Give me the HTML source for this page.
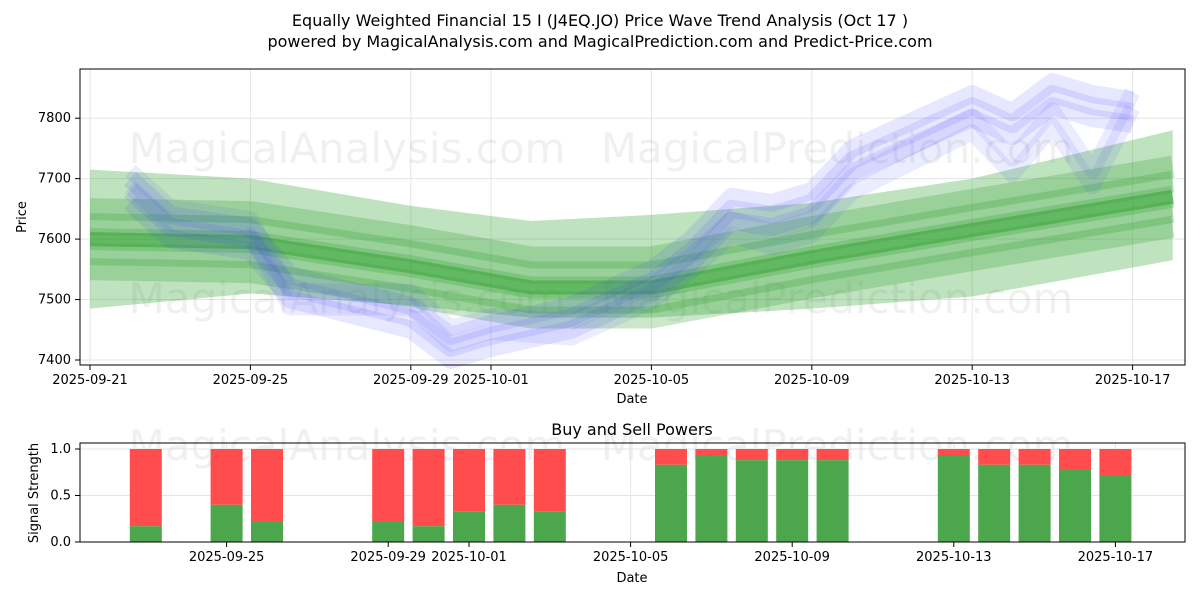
<!DOCTYPE html>
<html><head><meta charset="utf-8">
<style>
body{margin:0;background:#fff;font-family:"Liberation Sans","DejaVu Sans",sans-serif;}
svg text{font-family:"DejaVu Sans","Liberation Sans",sans-serif;}
</style></head>
<body>
<svg id="c" width="1200" height="600">
<text x="600" y="26" text-anchor="middle" font-size="16">Equally Weighted Financial 15 I (J4EQ.JO) Price Wave Trend Analysis (Oct 17 )</text>
<text x="600" y="47" text-anchor="middle" font-size="16">powered by MagicalAnalysis.com and MagicalPrediction.com and Predict-Price.com</text>
<g id="top"></g>
<g id="bot"></g>
</svg>
<script>
const priceTicks=[7400,7500,7600,7700,7800];
const dateTicks=['2025-09-21','2025-09-25','2025-09-29','2025-10-01','2025-10-05','2025-10-09','2025-10-13','2025-10-17'];
const greenDays=[0,4,8,11,14,18,22,27];
const greenMid=[7600,7595,7555,7520,7520,7570,7615,7670];
const greenUpper=[7715,7700,7655,7630,7640,7660,7700,7780];
const greenLower=[7485,7510,7490,7470,7470,7485,7505,7565];
const blueDays=[1,2,4,5,8,9,10,12,14,15,16,17,18,19,22,23,24,25,26];
const blueVals=[7680,7620,7600,7520,7470,7420,7440,7470,7530,7580,7650,7640,7660,7730,7820,7790,7840,7820,7810];
const blue2Days=[1,2,4,5,8,9,10,12,14,15,16,17,18,19,22,23,24,25,26];
const blue2Vals=[7700,7640,7620,7500,7500,7440,7460,7450,7510,7560,7620,7600,7620,7690,7790,7720,7800,7700,7830];
const barDays=[2,4,5,8,9,10,11,12,15,16,17,18,19,22,23,24,25,26];
const buyVals=[0.17,0.4,0.22,0.22,0.17,0.33,0.4,0.33,0.83,0.93,0.88,0.88,0.88,0.93,0.83,0.83,0.78,0.72];
const sigTicks=[0,0.5,1.0];
const barTickDays=[4,8,10,14,18,22,26];
const NS='http://www.w3.org/2000/svg';
function mk(p,t,a){const e=document.createElementNS(NS,t);for(const k in a)e.setAttribute(k,a[k]);p.appendChild(e);return e;}
const gTop=document.getElementById('top'),gBot=document.getElementById('bot');
const X=d=>90+d*40.1, Y=v=>360-(v-7400)*0.6045;
const X2=d=>65+d*40.4, Y2=v=>542-v*93;
priceTicks.forEach(v=>{const l=mk(gTop,'line',{x1:80,x2:1185,y1:Y(v),y2:Y(v),stroke:'#e5e5e5'});
 
 
 mk(gTop,'line',{x1:75,x2:80,y1:Y(v),y2:Y(v),stroke:'#000'});
 const t=mk(gTop,'text',{x:71,y:Y(v)+4,'text-anchor':'end','font-size':13});t.textContent=v;
 
 });
dateTicks.forEach(s=>{const d=(new Date(s)-new Date('2025-09-21'))/864e5;const x=X(d);
 mk(gTop,'line',{x1:x,x2:x,y1:69,y2:365,stroke:'#e5e5e5'});mk(gTop,'line',{x1:x,x2:x,y1:365,y2:370,stroke:'#000'});
 const t=mk(gTop,'text',{x:x,y:384,'text-anchor':'middle','font-size':13});t.textContent=s;
 
 });
[['MagicalAnalysis.com',347,163],['MagicalPrediction.com',837,163],['MagicalAnalysis.com',347,313],['MagicalPrediction.com',837,313],['MagicalAnalysis.com',347,460],['MagicalPrediction.com',837,460]].forEach(w=>{const t=mk(gTop,'text',{x:w[1],y:w[2],'text-anchor':'middle','font-size':42,fill:'#000','fill-opacity':0.06});t.textContent=w[0];
 
 });
function pts(days,vals,dy){return days.map((d,i)=>X(d)+','+(Y(vals[i])+(dy||0))).join(' ');}
const band=greenDays.map((d,i)=>X(d)+','+Y(greenUpper[i])).concat(greenDays.slice().reverse().map((d,j)=>{const i=greenDays.length-1-j;return X(d)+','+Y(greenLower[i]);})).join(' ');
let e=mk(gTop,'polygon',{points:band,fill:'#2ca02c','fill-opacity':0.3});


[-30,-15,0,15,30].forEach(o=>{const p=mk(gTop,'polyline',{points:pts(greenDays,greenMid,o),fill:'none',stroke:'#2ca02c','stroke-opacity':0.25,'stroke-width':22,'stroke-linejoin':'round'});
 
 });
e=mk(gTop,'polyline',{points:pts(greenDays,greenMid,0),fill:'none',stroke:'#2ca02c','stroke-opacity':0.5,'stroke-width':14});


[-12,0,12].forEach(o=>{const p=mk(gTop,'polyline',{points:pts(blueDays,blueVals,o),fill:'none',stroke:'#4444ff','stroke-opacity':0.13,'stroke-width':18,'stroke-linejoin':'round'});
 
 });
[-8,8].forEach(o=>{const p=mk(gTop,'polyline',{points:pts(blue2Days,blue2Vals,o),fill:'none',stroke:'#4444ff','stroke-opacity':0.1,'stroke-width':16,'stroke-linejoin':'round'});
 
 });
e=mk(gTop,'rect',{x:80,y:69,width:1105,height:296,fill:'none',stroke:'#000'});


e=mk(gTop,'text',{x:632,y:403,'text-anchor':'middle','font-size':13});e.textContent='Date';


e=mk(gTop,'text',{x:26,y:217,'text-anchor':'middle','font-size':13,transform:'rotate(-90 26 217)'});e.textContent='Price';


e=mk(gBot,'text',{x:632,y:435,'text-anchor':'middle','font-size':16});e.textContent='Buy and Sell Powers';


sigTicks.forEach(v=>{mk(gBot,'line',{x1:80,x2:1185,y1:Y2(v),y2:Y2(v),stroke:'#e5e5e5'});mk(gBot,'line',{x1:75,x2:80,y1:Y2(v),y2:Y2(v),stroke:'#000'});
 const t=mk(gBot,'text',{x:71,y:Y2(v)+4,'text-anchor':'end','font-size':13});t.textContent=v.toFixed(1);
 
 });
barTickDays.forEach((d,k)=>{const x=X2(d);mk(gBot,'line',{x1:x,x2:x,y1:443,y2:542,stroke:'#e5e5e5'});mk(gBot,'line',{x1:x,x2:x,y1:542,y2:547,stroke:'#000'});
 const t=mk(gBot,'text',{x:x,y:561,'text-anchor':'middle','font-size':13});t.textContent=dateTicks[k+1];
 
 });
barDays.forEach((d,i)=>{const x=X2(d)-16,b=buyVals[i];
 const s=mk(gBot,'rect',{x:x,y:Y2(1),width:32,height:Y2(b)-Y2(1),fill:'#ff4c4c'});
 
 
 const g=mk(gBot,'rect',{x:x,y:Y2(b),width:32,height:Y2(0)-Y2(b),fill:'#4ca64c'});
 
 });
e=mk(gBot,'rect',{x:80,y:443,width:1105,height:99,fill:'none',stroke:'#000'});


e=mk(gBot,'text',{x:632,y:582,'text-anchor':'middle','font-size':13});e.textContent='Date';


e=mk(gBot,'text',{x:38,y:493,'text-anchor':'middle','font-size':13,transform:'rotate(-90 38 493)'});e.textContent='Signal Strength';


</script>
</body></html>
